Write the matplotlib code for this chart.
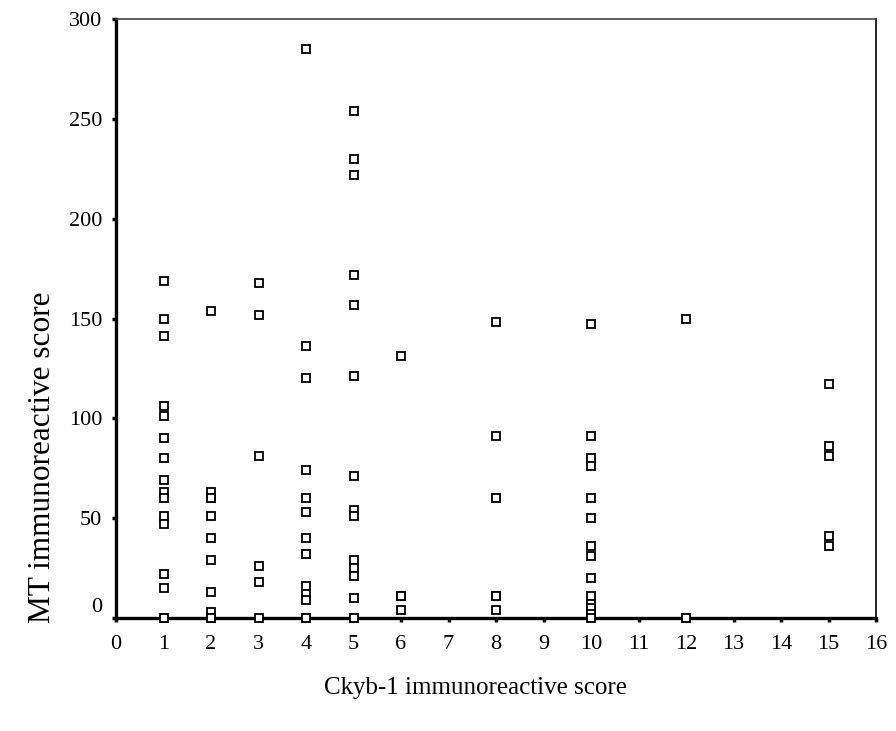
import matplotlib
matplotlib.use("Agg")
import matplotlib.pyplot as plt
from matplotlib.transforms import ScaledTranslation

plt.rcParams['font.family'] = ['Liberation Serif', 'DejaVu Serif']

# Data (Ckyb-1 score -> MT scores)
ckyb_scores = [1, 2, 3, 4, 5, 6, 8, 10, 12, 15]
mt_scores = [
    [169, 150, 141, 106, 101, 90, 80, 69, 63, 60, 51, 47, 22, 15, 0, 0],
    [154, 63, 60, 60, 51, 40, 29, 13, 3, 0, 0],
    [168, 152, 81, 26, 18, 0],
    [285, 136, 120, 74, 60, 53, 40, 32, 32, 16, 12, 9, 0, 0],
    [254, 230, 222, 172, 157, 121, 71, 54, 51, 29, 25, 21, 10, 0, 0],
    [131, 11, 11, 4],
    [148, 91, 60, 60, 11, 11, 4],
    [147, 91, 80, 76, 60, 50, 36, 31, 20, 11, 7, 5, 2, 0],
    [150, 0, 0],
    [117, 86, 81, 41, 36],
]
x_ticks = list(range(0, 17))
y_ticks = [0, 50, 100, 150, 200, 250, 300]
x_label = "Ckyb-1 immunoreactive score"
y_label = "MT immunoreactive score"

xs, ys = [], []
for c, vals in zip(ckyb_scores, mt_scores):
    for v in vals:
        xs.append(c)
        ys.append(v)

W, H = 896, 731
fig = plt.figure(figsize=(W / 100, H / 100), dpi=100)
ax = fig.add_axes([116 / W, 1 - 618 / H, (876 - 116) / W, (618 - 19) / H])

ax.plot(xs, ys, linestyle='none', marker='s', markersize=6.3,
        markerfacecolor='white', markeredgecolor='black',
        markeredgewidth=1.3, clip_on=False, zorder=4)

ax.set_xlim(0, 16)
ax.set_ylim(0, 300)
ax.set_xticks(x_ticks)
ax.set_yticks(y_ticks)
ax.set_xticklabels([str(t) for t in x_ticks])
ax.set_yticklabels([str(t) for t in y_ticks])

ax.tick_params(axis='both', direction='out', length=3, width=2.5,
               labelsize=16, colors='black')
ax.tick_params(axis='x', pad=9)
ax.tick_params(axis='y', pad=7)

for s in ['left', 'bottom']:
    ax.spines[s].set_linewidth(2.4)
ax.spines['top'].set_linewidth(1.2)
ax.spines['top'].set_color('#444444')
ax.spines['right'].set_linewidth(1.2)

# The "0" label sits slightly above the axis, as in the reference
fig.canvas.draw()
lbl0 = ax.yaxis.get_major_ticks()[0].label1
lbl0.set_transform(lbl0.get_transform() + ScaledTranslation(0, 13 / 100, fig.dpi_scale_trans))

fig.text(475 / W, 1 - 688 / H, x_label, ha='center', va='center', fontsize=18)
fig.text(42 / W, 1 - 457 / H, y_label, ha='center', va='center', rotation=90, fontsize=22.5)

fig.savefig("out.png", dpi=100)
